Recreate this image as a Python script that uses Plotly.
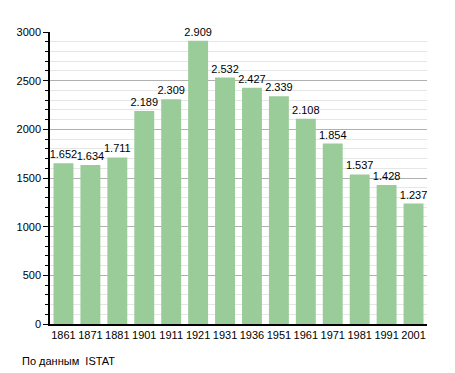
import plotly.graph_objects as go

years = ["1861", "1871", "1881", "1901", "1911", "1921", "1931", "1936", "1951", "1961", "1971", "1981", "1991", "2001"]
population = [1652, 1634, 1711, 2189, 2309, 2909, 2532, 2427, 2339, 2108, 1854, 1537, 1428, 1237]
labels = [f"{v:,}".replace(",", ".") for v in population]

fig = go.Figure()
fig.add_trace(go.Bar(
    x=years, y=population, text=labels, textposition="outside",
    marker=dict(color="#99cc99", line=dict(width=0)),
    textfont=dict(family="Liberation Sans, Arial", size=11, color="black"),
    constraintext="none",
    cliponaxis=False,
))
fig.update_layout(
    width=455, height=373,
    margin=dict(l=50, r=28, t=32, b=49, autoexpand=False),
    paper_bgcolor="white", plot_bgcolor="white",
    bargap=0.26, showlegend=False,
    font=dict(family="Liberation Sans, Arial", size=11, color="black"),
    xaxis=dict(type="category", showline=True, linecolor="black", linewidth=1.5,
               ticks="", tickfont=dict(size=11), showgrid=False, automargin=False),
    yaxis=dict(range=[0, 3000], dtick=500, showline=True, linecolor="black", linewidth=1.5,
               ticks="outside", ticklen=5, tickcolor="black", automargin=False,
               gridcolor="#b0b0b0", gridwidth=1, zeroline=False,
               tickfont=dict(size=11),
               minor=dict(dtick=100, showgrid=True, gridcolor="#e6e6e6",
                          ticks="outside", ticklen=3, tickcolor="black")),
    annotations=[dict(text="По данным  ISTAT", xref="paper", yref="paper",
                      x=-30/377, y=-37/292, xanchor="left", yanchor="middle",
                      showarrow=False, font=dict(size=11))],
)
fig.write_html("out.html", config={"displayModeBar": False},
               post_script="document.body.style.margin='0';document.body.style.overflow='hidden';")
